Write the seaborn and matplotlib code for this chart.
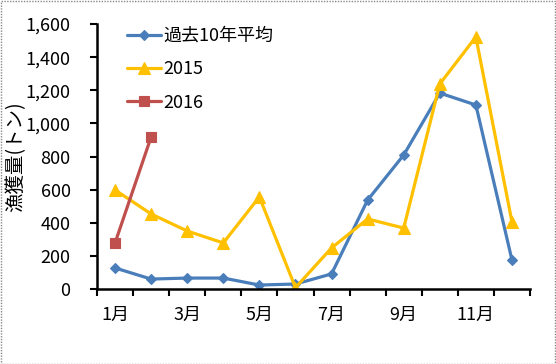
import matplotlib
matplotlib.use("Agg")
import matplotlib.pyplot as plt
import seaborn as sns
import pandas as pd
import numpy as np
from matplotlib.ticker import FuncFormatter, FixedLocator

months = ["1月", "2月", "3月", "4月", "5月", "6月", "7月", "8月", "9月", "10月", "11月", "12月"]
avg10 = [127, 60, 66, 66, 24, 30, 91, 537, 809, 1183, 1111, 175]
y2015 = [598, 453, 350, 278, 556, 8, 248, 423, 368, 1238, 1522, 405]
y2016 = [278, 918]
series_names = ["過去10年平均", "2015", "2016"]

sns.set_theme(style="white")
plt.rcParams['font.family'] = ['Noto Sans CJK JP', 'DejaVu Sans']

rows = []
for name, vals in zip(series_names, [avg10, y2015, y2016]):
    for i, v in enumerate(vals):
        rows.append({"pos": i, "month": months[i], "val": v, "series": name})
df = pd.DataFrame(rows)

fig = plt.figure(figsize=(5.56, 3.64), dpi=100)
ax = fig.add_axes([97/556, 1 - 289/364, (530-97)/556, (289-24)/364])

palette = {"過去10年平均": "#4A7EBB", "2015": "#FFC000", "2016": "#C0504D"}
markers = {"過去10年平均": "D", "2015": "^", "2016": "s"}
sizes = {"過去10年平均": 5.5, "2015": 8, "2016": 7}
for name in series_names:
    d = df[df.series == name]
    sns.lineplot(data=d, x="pos", y="val", ax=ax, color=palette[name], marker=markers[name],
                 markersize=sizes[name], linewidth=2.3, markeredgewidth=0.8,
                 markeredgecolor=palette[name], label=name)

fs = 13
ax.set_xlim(-0.5, 11.5)
ax.set_ylim(0, 1600)
ax.yaxis.set_major_locator(FixedLocator(np.arange(0, 1601, 200)))
ax.yaxis.set_major_formatter(FuncFormatter(lambda v, p: f"{int(v):,}"))
ax.set_xticks(list(range(0, 12, 2)))
ax.set_xticklabels([months[i] for i in range(0, 12, 2)])
ax.set_xticks(np.arange(-0.5, 12, 1), minor=True)
ax.tick_params(axis="x", which="major", length=0, pad=12, labelsize=fs, labelcolor="black")
ax.tick_params(axis="x", which="minor", length=5, width=1.5, color="black", direction="out", bottom=True)
ax.tick_params(axis="y", which="major", length=5, width=1.5, color="black", direction="out", left=True,
               labelsize=fs, pad=14, labelcolor="black")
for s in ["top", "right"]:
    ax.spines[s].set_visible(False)
for s in ["left", "bottom"]:
    ax.spines[s].set_color("black")
    ax.spines[s].set_linewidth(1.8)
ax.set_xlabel("")
ax.set_ylabel("漁獲量(トン)", fontsize=14, color="black")
ax.yaxis.set_label_coords(-71/433, 0.5)

leg = ax.legend(loc="upper left", bbox_to_anchor=(0.032, 1.05), frameon=False, fontsize=fs,
                handlelength=1.9, labelspacing=0.85, handletextpad=0.1)
for t in leg.get_texts():
    t.set_color("black")

fig.patches.append(plt.Rectangle((0.001, 0.001), 0.997, 0.997, transform=fig.transFigure,
                                 fill=False, edgecolor="#888888", linewidth=1, linestyle=(0, (1, 1))))
fig.savefig("out.png", dpi=100)
